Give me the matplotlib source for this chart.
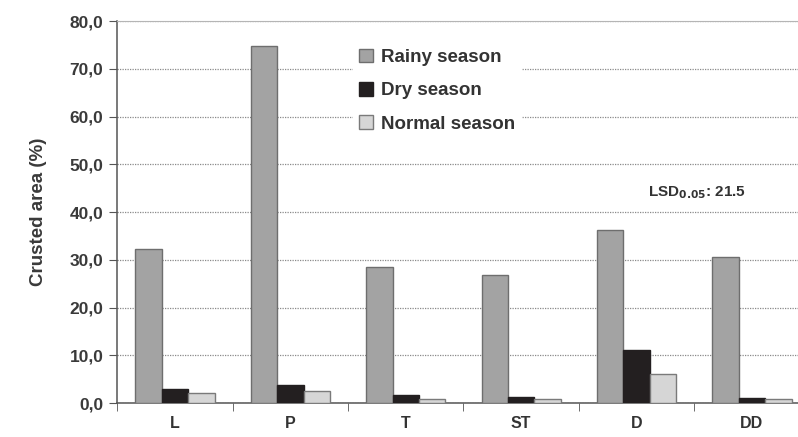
import numpy as np
import matplotlib
matplotlib.use("Agg")
import matplotlib.pyplot as plt
from matplotlib.ticker import FuncFormatter

# ---- data ----
sites = ["L", "P", "T", "ST", "D", "DD"]
rainy = [32.3, 74.8, 28.5, 26.8, 36.2, 30.6]
dry = [2.9, 3.8, 1.7, 1.2, 11.1, 1.0]
normal = [2.1, 2.5, 0.9, 0.9, 6.1, 0.8]
season_names = ["Rainy season", "Dry season", "Normal season"]

plt.rcParams["font.family"] = ["Liberation Sans", "DejaVu Sans"]

fig = plt.figure(figsize=(7.98, 4.37), dpi=100)
# the plot area runs a little past the right edge of the image, like the original
ax = fig.add_axes([0.147, 0.0778, 0.8676, 0.874])

x = np.arange(len(sites))
w = 0.229
ax.bar(x - w, rainy, w, color="#a3a3a3", edgecolor="#6e6e6e", linewidth=1.0,
       label=season_names[0], zorder=3)
ax.bar(x, dry, w, color="#231f20", edgecolor="#231f20", linewidth=1.0,
       label=season_names[1], zorder=3)
ax.bar(x + w, normal, w, color="#d6d6d6", edgecolor="#7a7a7a", linewidth=1.0,
       label=season_names[2], zorder=3)

ax.set_xlim(-0.5, len(sites) - 0.5)
ax.set_ylim(0, 80)
ax.set_yticks(np.arange(0, 81, 10))
ax.yaxis.set_major_formatter(FuncFormatter(lambda v, p: f"{v:.1f}".replace(".", ",")))
ax.yaxis.grid(True, linestyle=(0, (1, 1)), color="#8a8a8a", linewidth=0.9, zorder=0)

# category labels centred, tick marks between groups
ax.set_xticks(x)
ax.set_xticklabels(sites, fontsize=11.5, fontweight="bold", color="#333333")
ax.tick_params(axis="x", which="major", length=0, pad=9)
ax.set_xticks(np.arange(-0.5, len(sites), 1), minor=True)
ax.tick_params(axis="x", which="minor", length=6, color="#555555", direction="out")
ax.tick_params(axis="y", length=6, color="#555555", direction="out",
               labelsize=12.5, labelcolor="#3a3a3a", pad=4)
for lab in ax.get_yticklabels():
    lab.set_fontweight("bold")

for s in ["left", "bottom"]:
    ax.spines[s].set_color("#555555")
    ax.spines[s].set_linewidth(1.1)
ax.spines["top"].set_color("#b5b5b5")
ax.spines["right"].set_visible(False)

ax.set_ylabel("Crusted area (%)", fontsize=13.5, fontweight="bold",
              color="#3a3a3a", labelpad=16)

leg = ax.legend(loc="upper left", bbox_to_anchor=(0.327, 0.967), frameon=True,
                framealpha=1, facecolor="white", edgecolor="white",
                prop={"size": 13.5, "weight": "bold"}, handlelength=0.75,
                handleheight=0.75, handletextpad=0.45, labelspacing=0.85,
                borderpad=0.3)
for t in leg.get_texts():
    t.set_color("#333333")
leg.set_zorder(4)

ax.text(4.52, 44.0, r"LSD$_{\mathbf{0.05}}$: 21.5", ha="center", va="center",
        fontsize=11, fontweight="bold", color="#333333", zorder=4)

fig.savefig("out.png", dpi=100)
